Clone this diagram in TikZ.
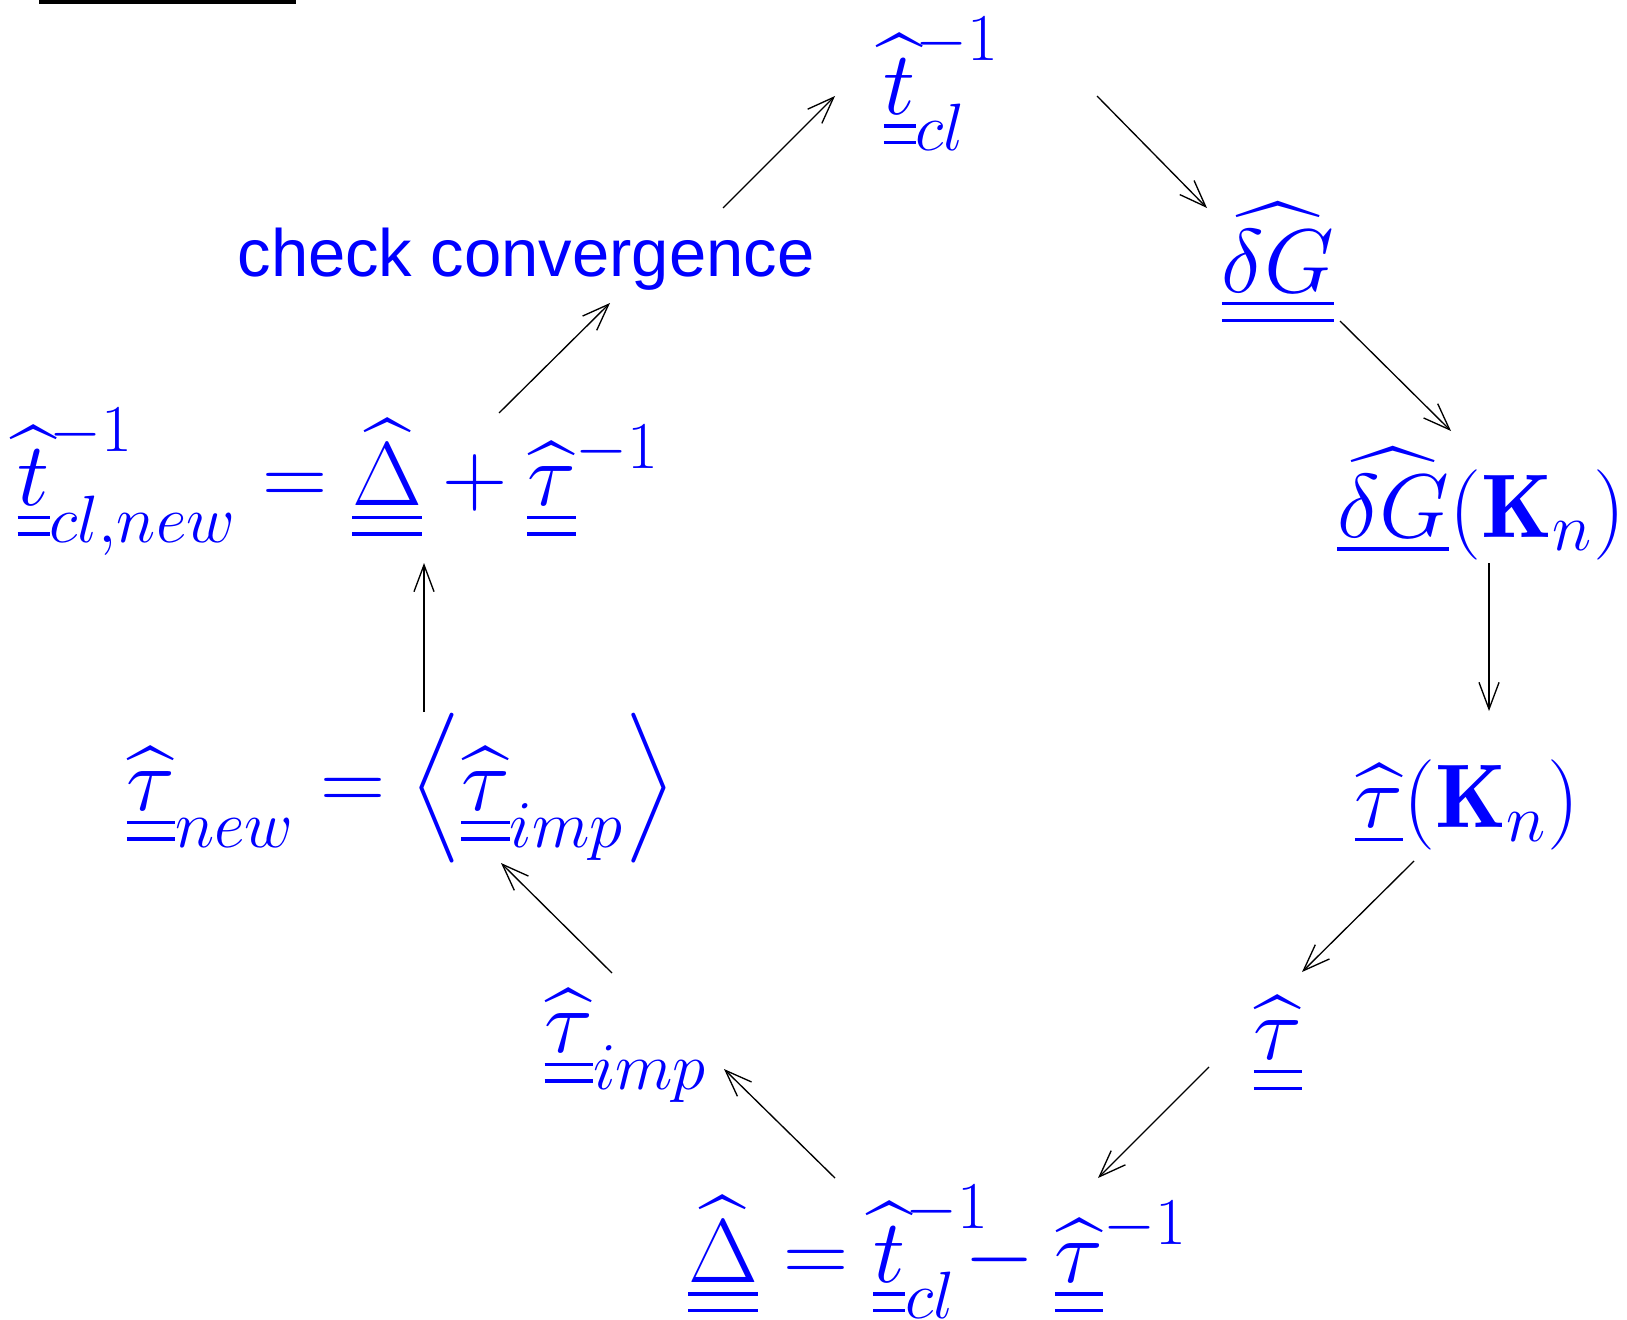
\RequirePackage{fix-cm}
\documentclass[tikz,border=0pt]{standalone}
\usepackage{amsmath}
\usepackage{fontspec}
\setsansfont{Liberation Sans}
\usetikzlibrary{arrows.meta}
\DeclareMathSizes{27}{27}{20}{15}
\newcommand{\dul}[1]{\underline{\underline{#1}}}
\tikzset{
  % Formula node
  eq/.style={text=blue, inner sep=0pt, font=\fontsize{27}{32}\selectfont},
  % Plain text label
  lbl/.style={text=blue, inner sep=0pt, font=\sffamily\fontsize{20}{24}\selectfont},
  % Arrow
  arr/.style={-{Straight Barb[length=8pt,width=6pt]}, line width=0.4pt, color=black}
}
\begin{document}
\begin{tikzpicture}[x=0.0105cm, y=-0.0105cm]
  \path[use as bounding box] (0,0) rectangle (1627,1319);
  \draw[line width=2.4pt] (39,0) -- (296,0);

  \node[eq] (tcl)   at (942,84)   {$\widehat{\dul{t}}_{cl}^{-1}$};
  \node[eq] (dG)    at (1278,264) {$\dul{\widehat{\delta G}}$};
  \node[eq] (dGK)   at (1481,504) {$\underline{\widehat{\delta G}}(\mathbf{K}_n)$};
  \node[eq] (tauK)  at (1467,805) {$\widehat{\underline{\tau}}(\mathbf{K}_n)$};
  \node[eq] (tau)   at (1278,1045) {$\widehat{\dul{\tau}}$};
  \node[eq] (delta) at (938,1252) {$\widehat{\dul{\Delta}} = \widehat{\dul{t}}_{cl}^{-1}\mkern-9mu - \widehat{\dul{\tau}}^{-1}$};
  \node[eq] (timp)  at (626,1046) {$\widehat{\dul{\tau}}_{imp}$};
  \node[eq] (tnew)  at (401,788)  {$\widehat{\dul{\tau}}_{new} = \left\langle \widehat{\dul{\tau}}_{imp} \right\rangle$};
  \node[eq] (tclnew) at (339,482) {$\widehat{\dul{t}}_{cl,new}^{-1} = \widehat{\dul{\Delta}} + \widehat{\dul{\tau}}^{-1}$};
  \node[lbl] (conv) at (526,259)  {check convergence};

  \draw[arr] ([shift={(197,-51)}]conv.center) -- ([shift={(-107,12)}]tcl.center);
  \draw[arr] ([shift={(155,12)}]tcl.center) -- ([shift={(-71,-56)}]dG.center);
  \draw[arr] ([shift={(62,57)}]dG.center) -- ([shift={(-30,-73)}]dGK.center);
  \draw[arr] ([shift={(8,59)}]dGK.center) -- ([shift={(22,-94)}]tauK.center);
  \draw[arr] ([shift={(-53,56)}]tauK.center) -- ([shift={(24,-73)}]tau.center);
  \draw[arr] ([shift={(-69,22)}]tau.center) -- ([shift={(160,-74)}]delta.center);
  \draw[arr] ([shift={(-103,-74)}]delta.center) -- ([shift={(98,23)}]timp.center);
  \draw[arr] ([shift={(-14,-73)}]timp.center) -- ([shift={(100,75)}]tnew.center);
  \draw[arr] ([shift={(23,-76)}]tnew.center) -- ([shift={(85,81)}]tclnew.center);
  \draw[arr] ([shift={(160,-69)}]tclnew.center) -- ([shift={(84,44)}]conv.center);
\end{tikzpicture}
\end{document}
